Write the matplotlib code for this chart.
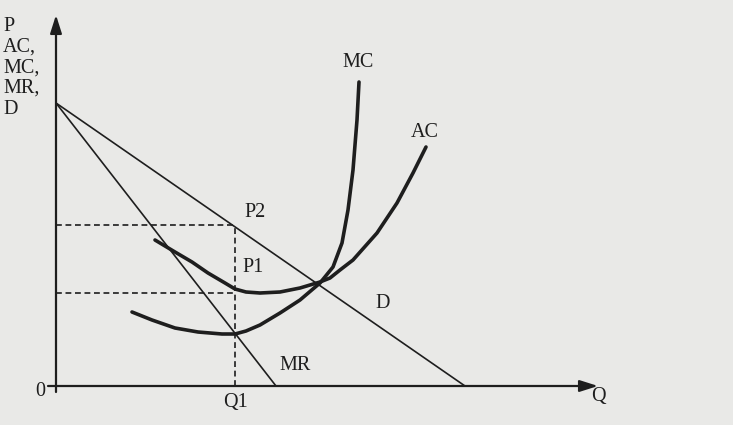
import matplotlib
matplotlib.use("Agg")
import matplotlib.pyplot as plt

# Data (units: chart coordinates, origin at the axes corner)
demand_q = [0, 409]
demand_p = [283, 0]
mr_q = [0, 220]
mr_p = [283, 0]

ac_q = [99, 119, 136, 152, 169, 179, 190, 204, 224, 244, 264, 274, 284, 297, 321, 341, 357, 370]
ac_p = [146, 134, 124, 113, 103, 97, 94, 93, 94, 98, 104, 108, 116, 126, 153, 183, 213, 239]

mc_q = [76, 96, 119, 142, 166, 179, 190, 204, 224, 244, 264, 277, 286, 292, 297, 301, 303]
mc_p = [74, 66, 58, 54, 52, 52, 55, 61, 73, 86, 103, 119, 143, 176, 216, 266, 304]

Q1 = 179
P1 = 93
P2 = 161
Q_MAX = 542
P_MAX = 371

y_label = "P\nAC,\nMC,\nMR,\nD"

BG = "#e9e9e7"
INK = "#1e1e1e"
FONT = ["Liberation Serif", "DejaVu Serif"]

fig = plt.figure(figsize=(7.33, 4.25), dpi=100, facecolor=BG)
ax = fig.add_axes([0, 0, 1, 1])
ax.set_facecolor(BG)
ax.set_xlim(-56, 733 - 56)
ax.set_ylim(386 - 425, 386)
ax.axis("off")

# axes with arrows
ax.annotate("", xy=(0, P_MAX), xytext=(0, -6),
            arrowprops=dict(arrowstyle="-|>,head_length=1.1,head_width=0.35",
                            color=INK, lw=1.6, shrinkA=0, shrinkB=0))
ax.annotate("", xy=(Q_MAX, 0), xytext=(-8, 0),
            arrowprops=dict(arrowstyle="-|>,head_length=1.1,head_width=0.35",
                            color=INK, lw=1.6, shrinkA=0, shrinkB=0))

# demand and MR
ax.plot(demand_q, demand_p, color=INK, lw=1.2, solid_capstyle="butt")
ax.plot(mr_q, mr_p, color=INK, lw=1.2, solid_capstyle="butt")

# cost curves
ax.plot(ac_q, ac_p, color=INK, lw=2.6, solid_capstyle="round", solid_joinstyle="round")
ax.plot(mc_q, mc_p, color=INK, lw=2.6, solid_capstyle="round", solid_joinstyle="round")

# dashed guide lines
dash = (0, (3.5, 2.2))
ax.plot([0, Q1], [P2, P2], color=INK, lw=1.2, linestyle=dash)
ax.plot([0, Q1], [P1, P1], color=INK, lw=1.2, linestyle=dash)
ax.plot([Q1, Q1], [0, P2], color=INK, lw=1.2, linestyle=dash)

fs = 14.5
ax.text(-53, 369, y_label, fontsize=fs, family=FONT, color=INK,
        va="top", ha="left", linespacing=1.12)
ax.text(302, 324, "MC", fontsize=fs, family=FONT, color=INK, ha="center", va="center")
ax.text(369, 254, "AC", fontsize=fs, family=FONT, color=INK, ha="center", va="center")
ax.text(327, 83, "D", fontsize=fs, family=FONT, color=INK, ha="center", va="center")
ax.text(239, 21, "MR", fontsize=fs, family=FONT, color=INK, ha="center", va="center")
ax.text(199, 174, "P2", fontsize=fs, family=FONT, color=INK, ha="center", va="center")
ax.text(197, 119, "P1", fontsize=fs, family=FONT, color=INK, ha="center", va="center")
ax.text(180, -16, "Q1", fontsize=fs, family=FONT, color=INK, ha="center", va="center")
ax.text(-16, -5, "0", fontsize=fs, family=FONT, color=INK, ha="center", va="center")
ax.text(542, -10, "Q", fontsize=fs, family=FONT, color=INK, ha="center", va="center")

fig.savefig("out.png", dpi=100, facecolor=BG)
